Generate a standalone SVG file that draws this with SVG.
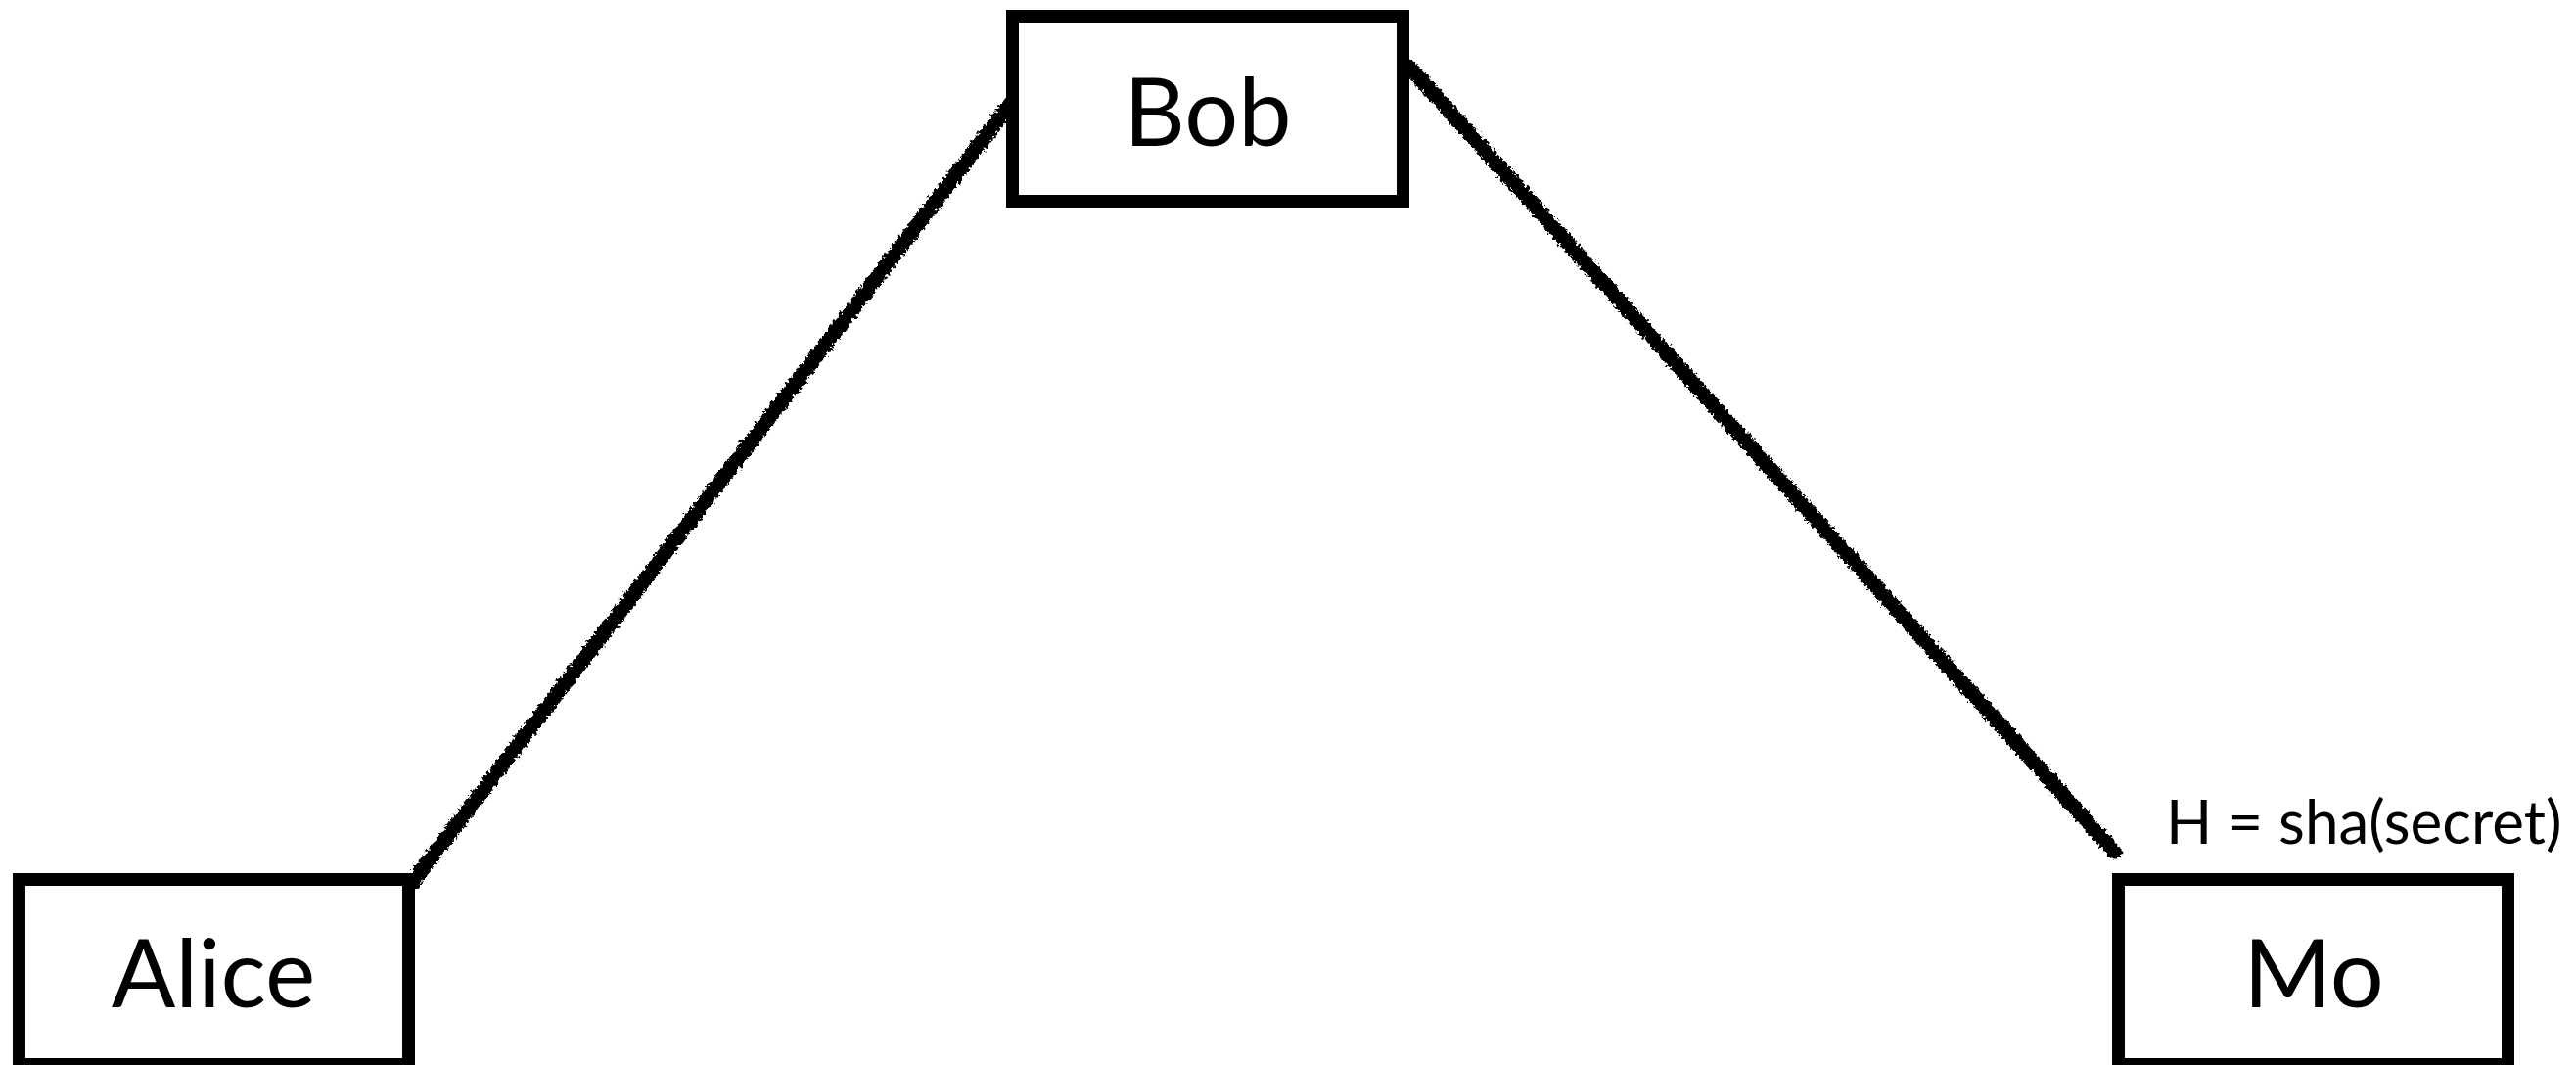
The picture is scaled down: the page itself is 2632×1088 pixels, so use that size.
<svg xmlns="http://www.w3.org/2000/svg" width="2632" height="1088" viewBox="0 0 2632 1088">
<style>
.box{fill:#fff;stroke:#000;stroke-width:13}
.lbl{font-family:Lato,"Open Sans",sans-serif;font-size:97px;fill:#000;text-anchor:middle}
.note{font-family:Lato,"Open Sans",sans-serif;font-size:62px;fill:#000}
.edge{fill:none;stroke:#000;stroke-width:15;stroke-linecap:round;filter:url(#chalk)}
</style>
<defs>
<filter id="chalk" x="-10%" y="-10%" width="120%" height="120%">
<feTurbulence type="fractalNoise" baseFrequency="0.3" numOctaves="2" seed="3" result="n"/>
<feDisplacementMap in="SourceGraphic" in2="n" scale="8" xChannelSelector="R" yChannelSelector="G"/>
</filter>
</defs>
<rect width="2632" height="1088" fill="#fff"/>
<g id="connectors">
<path class="edge" d="M420 903 L1040 96"/>
<path class="edge" d="M1440 68 L2160 870"/>
</g>
<g id="bob">
<rect class="box" x="1034.5" y="16.5" width="399" height="189"/>
<text class="lbl" x="1234" y="149">Bob</text>
</g>
<g id="alice">
<rect class="box" x="19.5" y="898.5" width="398" height="189"/>
<text class="lbl" x="218" y="1029">Alice</text>
</g>
<g id="mo">
<rect class="box" x="2164.5" y="898.5" width="398" height="189"/>
<text class="lbl" x="2364" y="1029">Mo</text>
<text class="note" x="2213" y="862">H = sha(secret)</text>
</g>
</svg>
